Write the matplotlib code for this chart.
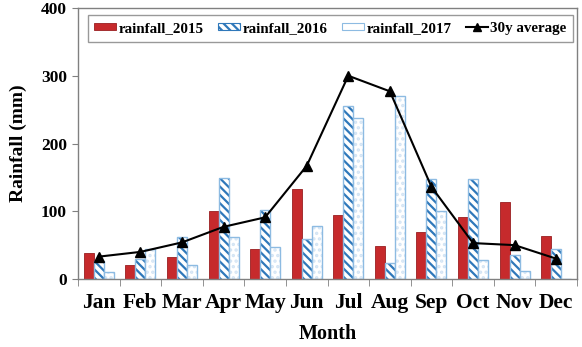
import matplotlib
matplotlib.use("Agg")
import matplotlib.pyplot as plt
import numpy as np
from matplotlib.patches import Patch
from matplotlib.lines import Line2D

months = ["Jan", "Feb", "Mar", "Apr", "May", "Jun", "Jul", "Aug", "Sep", "Oct", "Nov", "Dec"]
rain_2015 = [39, 20, 32, 101, 44, 133, 94, 49, 69, 92, 113, 63]
rain_2016 = [26, 30, 62, 149, 102, 59, 256, 23, 147, 147, 35, 45]
rain_2017 = [10, 45, 20, 62, 47, 78, 237, 270, 100, 28, 12, 0]
avg_30y = [33, 40, 54, 77, 91, 167, 300, 277, 136, 53, 50, 30]

plt.rcParams['font.family'] = ['Liberation Serif', 'DejaVu Serif']
plt.rcParams['font.weight'] = 'bold'
plt.rcParams['hatch.linewidth'] = 1.6

fig = plt.figure(figsize=(5.82, 3.47), dpi=100)
ax = fig.add_axes([78/582, 1-279/347, (577-78)/582, (279-8)/347])

x = np.arange(len(months))
w = 0.24
red = '#C62A2C'
blue = '#2F78BA'
light = '#8DBBE2'
dots = '#D3E4F4'

ax.bar(x - w, rain_2015, w, color=red, edgecolor='#9A1E20', linewidth=0.6,
       zorder=2)
ax.bar(x, rain_2016, w, facecolor='white', edgecolor=blue, linewidth=0,
       hatch='\\\\\\\\', zorder=2)
ax.bar(x, rain_2016, w, fill=False, edgecolor=light, linewidth=1.0, zorder=2)
ax.bar(x + w, rain_2017, w, facecolor='white', edgecolor=dots, linewidth=0,
       hatch='...', zorder=2)
ax.bar(x + w, rain_2017, w, fill=False, edgecolor=light, linewidth=1.0, zorder=2)

ax.plot(x, avg_30y, color='black', linewidth=1.5, marker='^', markersize=7,
        zorder=3)

h1 = Patch(facecolor=red, edgecolor='#9A1E20', linewidth=0.6)
h2 = Patch(facecolor='white', edgecolor=blue, hatch='\\\\\\\\', linewidth=0.8)
h3 = Patch(facecolor='white', edgecolor=light, linewidth=0.8)
h4 = Line2D([], [], color='black', linewidth=1.5, marker='^', markersize=6)
leg = ax.legend([h1, h2, h3, h4], ['rainfall_2015', 'rainfall_2016', 'rainfall_2017', '30y average'],
                ncol=4, loc='upper center', bbox_to_anchor=(0.506, 0.985),
                prop={'family': 'Liberation Serif', 'weight': 'bold', 'size': 10.8},
                frameon=True, fancybox=False, edgecolor='#808080',
                handlelength=1.45, handleheight=0.4, handletextpad=0.15,
                columnspacing=1.0, borderpad=0.45, borderaxespad=0.2)
leg.get_frame().set_linewidth(1.0)

ax.set_xlim(-0.5, 11.5)
ax.set_ylim(0, 400)
ax.set_yticks([0, 100, 200, 300, 400])
ax.set_xticks(x)
ax.set_xticklabels(months)
ax.set_xticks(np.arange(-0.5, 12, 1), minor=True)
ax.tick_params(axis='x', which='major', length=0, labelsize=15.5, pad=10)
ax.tick_params(axis='x', which='minor', length=5, color='#808080', direction='out')
ax.tick_params(axis='y', length=4, color='#808080', labelsize=12.5, pad=4)

for s in ax.spines.values():
    s.set_color('#808080')
    s.set_linewidth(1.0)

ax.set_ylabel('Rainfall (mm)', fontsize=14, fontweight='bold', labelpad=10)
ax.set_xlabel('Month', fontsize=14.5, fontweight='bold', labelpad=8)

fig.savefig('out.png', dpi=100)
